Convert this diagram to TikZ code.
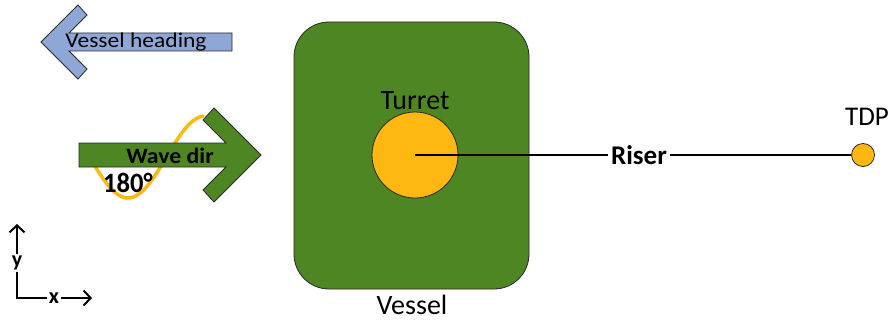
\documentclass[tikz,border=0pt]{standalone}
\usepackage{fontspec}
\setmainfont{Carlito}
\usetikzlibrary{arrows.meta}

\definecolor{hullgreen}{RGB}{79,134,36}
\definecolor{headblue}{RGB}{143,167,214}
\definecolor{turretgold}{RGB}{255,183,18}
\definecolor{edgegrey}{RGB}{40,40,40}

\tikzset{
  blockarrow/.style={draw=edgegrey, line width=0.8pt, line join=miter},
  bigtext/.style={font=\fontsize{28}{30}\selectfont, inner sep=0pt},
  boldtext/.style={font=\bfseries\fontsize{27}{30}\selectfont, inner sep=3pt},
  axislabel/.style={font=\bfseries\fontsize{22}{24}\selectfont, inner sep=2pt},
  axisline/.style={line width=2pt, -{Straight Barb[length=7pt,width=15pt,line width=2pt]}},
}

\begin{document}
\begin{tikzpicture}[x=1pt, y=-1pt]
\useasboundingbox (0,0) rectangle (890,321);

% vessel hull
\node[draw=edgegrey, line width=0.8pt, fill=hullgreen, rounded corners=35pt,
      minimum width=235pt, minimum height=267pt, inner sep=0pt] (vessel) at (411.5,155.5) {};
\node[bigtext] (vessellabel) at (412,305) {Vessel};

% turret and riser to touch-down point
\node[circle, draw=edgegrey, line width=0.8pt, fill=turretgold, minimum size=86pt, inner sep=0pt] (turret) at (415,155) {};
\node[bigtext] (turretlabel) at (415,101) {Turret};
\node[circle, draw=edgegrey, line width=0.8pt, fill=turretgold, minimum size=23pt, inner sep=0pt] (tdp) at (863,155) {};
\node[font=\fontsize{27}{30}\selectfont, inner sep=0pt] (tdplabel) at (867,117) {TDP};
\node[boldtext] (riser) at (639,155) {Riser};
\draw[line width=2.2pt] (turret.center) -- (riser.west);
\draw[line width=2.2pt] (riser.east) -- (tdp.west);

% vessel heading arrow
\draw[blockarrow, fill=headblue] (232,33) -- (69,33) -- (87,15) -- (78,5) -- (41,42)
  -- (78,79) -- (87,69) -- (69,51) -- (232,51) -- cycle;
\node[font=\fontsize{21}{24}\selectfont, inner sep=0pt, xscale=1.12] (headinglabel) at (136,42) {Vessel heading};

% incoming wave, drawn under the direction arrow
\draw[turretgold, line width=3.5pt, line cap=round]
  plot[domain=84:203, samples=80] (\x, {157+41*cos((\x-128)/154*360)});

% wave direction arrow
\draw[blockarrow, fill=hullgreen] (79,143) -- (226,143) -- (203,120) -- (214,108) -- (261,155)
  -- (214,202) -- (203,190) -- (226,167) -- (79,167) -- cycle;
\node[font=\bfseries\fontsize{22}{24}\selectfont, inner sep=0pt, xscale=1.08] (wavelabel) at (170,156) {Wave dir};
\node[font=\bfseries\fontsize{28}{30}\selectfont, inner sep=0pt, xscale=0.95] (anglelabel) at (128,183) {180°};

% axis cross
\coordinate (origin) at (17,298);
\coordinate (ytip) at (17,224);
\coordinate (xtip) at (92,298);
\node[axislabel] (ylab) at (17,263) {y};
\node[axislabel] (xlab) at (54,298) {x};
\draw[line width=2pt] (ylab.south) -- (origin) -- (xlab.west);
\draw[axisline] (ylab.north) -- (ytip);
\draw[axisline] (xlab.east) -- (xtip);
\end{tikzpicture}
\end{document}
